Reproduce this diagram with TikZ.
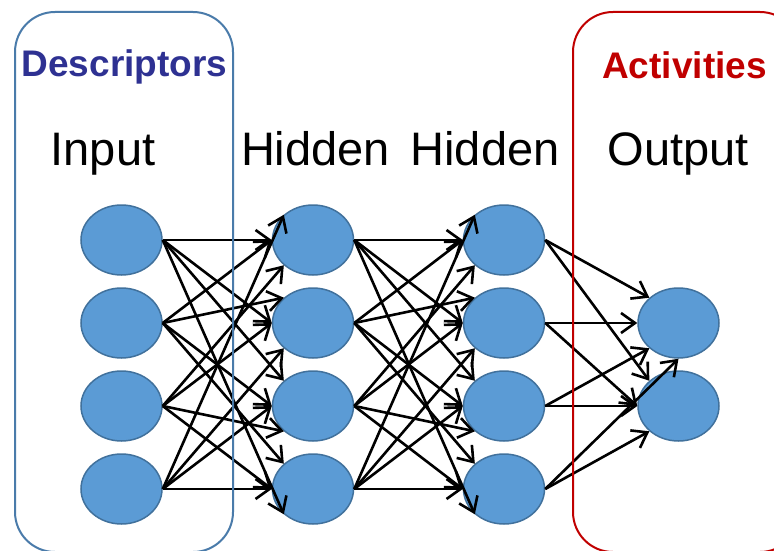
\documentclass[tikz,border=0pt]{standalone}
\usepackage{fontspec}
\setmainfont{Liberation Sans}
\usetikzlibrary{arrows.meta,shapes.geometric}
\definecolor{nodefill}{HTML}{5B9BD5}
\definecolor{nodeedge}{HTML}{41719C}
\definecolor{boxblue}{HTML}{4A7BAA}
\definecolor{descblue}{HTML}{2E3192}
\definecolor{actred}{HTML}{C00000}
\begin{document}
\begin{tikzpicture}[x=1pt,y=-1pt,
  neuron/.style={ellipse, minimum width=81pt, minimum height=70pt, inner sep=0pt, fill=nodefill, draw=nodeedge, line width=1.5pt},
  conn/.style={line width=2.6pt, -{Straight Barb[length=14pt,width=20pt]}},
  layerlabel/.style={anchor=base, inner sep=0pt, font=\fontsize{47}{50}\selectfont},
  grouplabel/.style={anchor=base, inner sep=0pt, font=\fontsize{37}{40}\selectfont\bfseries},
  groupbox/.style={line width=2pt, rounded corners=40pt}]
\useasboundingbox (0,0) rectangle (774,551);
\clip (0,0) rectangle (774,551);
% neurons
\foreach \k/\yy in {1/240,2/323,3/406,4/489}{
  \node[neuron] (i\k) at (121.5,\yy) {};
  \node[neuron] (h\k) at (313,\yy) {};
  \node[neuron] (g\k) at (504,\yy) {};
}
\node[neuron] (o1) at (678.5,323) {};
\node[neuron] (o2) at (678.5,406) {};
% connections
\foreach \s/\t/\a in {1/1/west,1/2/west,1/3/north west,1/4/south west,2/1/west,2/2/north west,2/3/west,2/4/north west,3/1/south west,3/2/west,3/3/south west,3/4/west,4/1/north west,4/2/south west,4/3/west,4/4/west}{
  \draw[conn] (i\s.east) -- (h\t.\a);
  \draw[conn] (h\s.east) -- (g\t.\a);
}
\draw[conn] (g1.east) -- (o1.north west);
\draw[conn] (g1.east) -- (o2.north west);
\draw[conn] (g2.east) -- (o1.west);
\draw[conn] (g2.east) -- (o2.west);
\draw[conn] (g3.east) -- (o1.south west);
\draw[conn] (g3.east) -- (o2.west);
\draw[conn] (g4.east) -- (o1.south);
\draw[conn] (g4.east) -- (o2.south west);
% group boxes
\draw[groupbox, draw=boxblue] (15,12) rectangle (233,552);
\draw[groupbox, draw=actred] (573,12) rectangle (800,552);
% labels
\node[grouplabel, text=descblue] (desc) at (124.5,77) {Descriptors};
\node[grouplabel, text=actred] (act) at (684.5,78) {Activities};
\node[layerlabel] (tin) at (103,165) {Input};
\node[layerlabel] (th1) at (315.5,165) {Hidden};
\node[layerlabel] (th2) at (485,165) {Hidden};
\node[layerlabel] (tout) at (678,165) {Output};
\end{tikzpicture}
\end{document}
